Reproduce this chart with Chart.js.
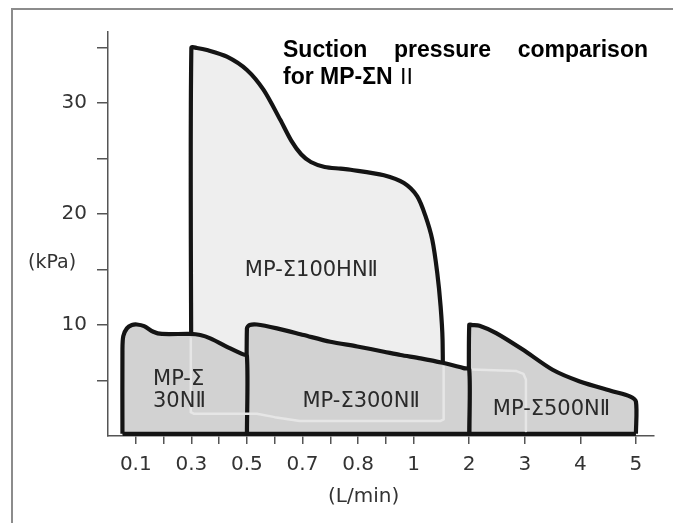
<!DOCTYPE html>
<html>
<head>
<meta charset="utf-8">
<script src="https://cdn.jsdelivr.net/npm/chart.js@4.4.0/dist/chart.umd.min.js"></script>
<style>
html, body { margin: 0; padding: 0; background: #fff; }
</style>
</head>
<body>
<canvas id="suction" width="673" height="523"></canvas>
<script>
// x is the position on the drawn flow axis, one unit per minor tick:
// 0.1 - 0.3 - 0.5 - 0.7 - 0.8 - 1, then 2 3 4 5 every two units
var x_ticks = [0, 1, 2, 3, 4, 5, 6, 7, 8, 9, 10, 12, 14, 16, 18];
var x_labels = ['0.1', '', '0.3', '', '0.5', '', '0.7', '', '0.8', '', '1', '2', '3', '4', '5'];
var y_ticks = [5, 10, 15, 20, 25, 30, 35];
var y_labels = ['', '10', '', '20', '', '30', ''];

// MP-Σ100HNⅡ (kPa)
var hn100_x = [2.0, 2.0, 2.2, 2.56, 3.28, 4.0, 4.6, 5.2, 5.6, 5.95, 6.3, 6.8, 7.37, 7.73, 8.93, 9.65, 10.13, 10.43, 10.67, 10.85, 10.97, 11.04, 11.06];
var hn100_y = [2.0, 35.0, 34.98, 34.8, 34.2, 33.0, 31.2, 28.5, 26.6, 25.4, 24.7, 24.25, 24.1, 24.0, 23.5, 22.8, 21.6, 19.8, 17.7, 14.7, 11.7, 8.7, 1.35];

// MP-Σ30NⅡ
var n30_x = [-0.48, -0.48, -0.45, -0.32, -0.14, 0.04, 0.3, 0.63, 0.94, 1.96, 2.32, 2.68, 3.4, 3.82, 4.0, 4.0];
var n30_y = [0.2, 7.8, 9.0, 9.7, 10.0, 10.05, 9.9, 9.4, 9.2, 9.2, 9.1, 8.8, 7.9, 7.4, 7.2, 0.2];

// MP-Σ300NⅡ
var n300_x = [4.0, 4.0, 4.1, 4.36, 5.08, 6.04, 7.0, 7.97, 8.93, 9.53, 10.25, 11.04, 11.8, 12.0, 12.0];
var n300_y = [0.2, 9.7, 10.0, 10.05, 9.7, 9.1, 8.5, 8.07, 7.6, 7.3, 7.0, 6.6, 6.12, 6.0, 0.2];

// MP-Σ500NⅡ
var n500_x = [12.0, 12.0, 12.12, 12.37, 12.97, 13.94, 15.0, 15.98, 17.18, 17.78, 18.0, 18.0];
var n500_y = [0.2, 10.0, 10.0, 9.94, 9.28, 7.77, 5.97, 4.92, 4.02, 3.57, 3.1, 0.2];

// outlines showing through the front areas
var hid100_x = [1.98, 1.98, 2.1, 4.36, 5.0, 5.9, 8.0, 10.95, 11.08, 11.08];
var hid100_y = [8.8, 2.15, 2.0, 2.0, 1.7, 1.35, 1.35, 1.35, 1.5, 6.3];
var hid300_x = [12.1, 13.7, 13.95, 14.04, 14.04];
var hid300_y = [6.0, 5.85, 5.6, 5.1, 0.45];

// common bottom edge of the front areas
var base_x = [-0.48, 18.0];
var base_y = [0.2, 0.2];

// first-line baselines of the area labels
var area_labels = [
    {lines: ['MP-Σ100HNⅡ'], x: 6.32, y: 14.44, align: 'center'},
    {lines: ['MP-Σ', '30NⅡ'], x: 0.62, y: 4.62, align: 'left'},
    {lines: ['MP-Σ300NⅡ'], x: 8.11, y: 2.64, align: 'center'},
    {lines: ['MP-Σ500NⅡ'], x: 14.96, y: 1.86, align: 'center'}
];

var title_line1 = 'Suction pressure comparison';
var title_line2 = 'for MP-ΣN';

function pts(xs, ys) {
    var d = new Array();
    for (var i = 0; i < xs.length; i++) {
        d.push({x: xs[i], y: ys[i]});
    }
    return d;
}

function area(label, xs, ys, color, order) {
    return {
        label: label,
        data: pts(xs, ys),
        borderColor: '#141414',
        borderWidth: 4.2,
        borderJoinStyle: 'round',
        backgroundColor: color,
        fill: 'origin',
        tension: 0.28,
        pointRadius: 0,
        order: order
    };
}

function outline(label, xs, ys, color, width) {
    return {
        label: label,
        data: pts(xs, ys),
        borderColor: color,
        borderWidth: width,
        borderJoinStyle: 'round',
        fill: false,
        tension: 0,
        pointRadius: 0,
        order: 0
    };
}

var decor = {
    id: 'decor',
    beforeDraw: function(chart) {
        var ctx = chart.ctx;
        ctx.save();
        ctx.fillStyle = '#fff';
        ctx.fillRect(0, 0, chart.width, chart.height);
        ctx.strokeStyle = '#8c8c8c';
        ctx.lineWidth = 2;
        ctx.beginPath();
        ctx.moveTo(12, chart.height);
        ctx.lineTo(12, 9);
        ctx.lineTo(chart.width, 9);
        ctx.stroke();
        ctx.restore();
    },
    afterDraw: function(chart) {
        var ctx = chart.ctx;
        var xs = chart.scales.x, ys = chart.scales.y;
        ctx.save();

        // labels inside the areas
        ctx.fillStyle = '#2a2a2a';
        ctx.font = '21px "DejaVu Sans", sans-serif';
        ctx.textBaseline = 'alphabetic';
        area_labels.forEach(function(l) {
            ctx.textAlign = l.align;
            var px = xs.getPixelForValue(l.x);
            var py = ys.getPixelForValue(l.y);
            for (var i = 0; i < l.lines.length; i++) {
                ctx.fillText(l.lines[i], px, py + i * 22);
            }
        });

        // axis units
        ctx.fillStyle = '#333';
        ctx.font = '19px "DejaVu Sans", sans-serif';
        ctx.textAlign = 'center';
        ctx.textBaseline = 'middle';
        ctx.fillText('(kPa)', xs.left - 56, ys.getPixelForValue(15) - 7);
        ctx.font = '20px "DejaVu Sans", sans-serif';
        ctx.fillText('(L/min)', xs.getPixelForValue(8.2), ys.bottom + 61);

        // title, first line justified
        ctx.fillStyle = '#000';
        ctx.textAlign = 'left';
        ctx.textBaseline = 'alphabetic';
        ctx.font = 'bold 23px "Liberation Sans", Arial, sans-serif';
        var words = title_line1.split(' ');
        var w = words.map(function(s) { return ctx.measureText(s).width; });
        var total = w.reduce(function(a, b) { return a + b; }, 0);
        var left = 283, right = 648;
        var gap = (right - left - total) / (words.length - 1);
        var x = left;
        for (var i = 0; i < words.length; i++) {
            ctx.fillText(words[i], x, 57);
            x += w[i] + gap;
        }
        ctx.fillText(title_line2, left, 84);
        var w2 = ctx.measureText(title_line2).width;
        ctx.font = '22px "Noto Sans CJK JP", sans-serif';
        ctx.fillText('Ⅱ', left + w2 + 3, 84);
        ctx.restore();
    }
};

var datasets = [
    outline('hidden 100HN', hid100_x, hid100_y, '#e6e6e6', 2.5),
    outline('hidden 300N', hid300_x, hid300_y, '#e6e6e6', 2.5),
    outline('base', base_x, base_y, '#141414', 4.2),
    area('MP-Σ30NⅡ', n30_x, n30_y, '#d2d2d2', 1),
    area('MP-Σ300NⅡ', n300_x, n300_y, '#d2d2d2', 1),
    area('MP-Σ500NⅡ', n500_x, n500_y, '#d2d2d2', 1),
    area('MP-Σ100HNⅡ', hn100_x, hn100_y, '#eeeeee', 2)
];

var myChart = new Chart(document.getElementById('suction'), {
    type: 'line',
    data: { datasets: datasets },
    options: {
        responsive: false,
        animation: false,
        events: [],
        layout: { padding: { top: 32, right: 19, left: 0, bottom: 0 } },
        plugins: {
            legend: { display: false },
            tooltip: { enabled: false },
            title: { display: false }
        },
        scales: {
            x: {
                type: 'linear',
                min: -1,
                max: 18.65,
                afterBuildTicks: function(s) { s.ticks = x_ticks.map(function(v) { return {value: v}; }); },
                afterFit: function(s) { s.height = 87; },
                ticks: {
                    autoSkip: false,
                    maxRotation: 0,
                    padding: 9,
                    color: '#333',
                    font: { family: 'DejaVu Sans', size: 20 },
                    callback: function(v) { return x_labels[x_ticks.indexOf(v)]; }
                },
                grid: { drawOnChartArea: false, tickLength: 8, color: '#555', lineWidth: 1.5 },
                border: { display: true, color: '#555', width: 1.5 }
            },
            y: {
                type: 'linear',
                min: 0,
                max: 36.42,
                afterBuildTicks: function(s) { s.ticks = y_ticks.map(function(v) { return {value: v}; }); },
                afterFit: function(s) { s.width = 108; },
                ticks: {
                    autoSkip: false,
                    padding: 10,
                    color: '#333',
                    font: { family: 'DejaVu Sans', size: 20 },
                    callback: function(v) { return y_labels[y_ticks.indexOf(v)]; }
                },
                grid: { drawOnChartArea: false, tickLength: 11, color: '#555', lineWidth: 1.5 },
                border: { display: true, color: '#555', width: 1.5 }
            }
        }
    },
    plugins: [decor]
});
window.myChart = myChart;
</script>
</body>
</html>
